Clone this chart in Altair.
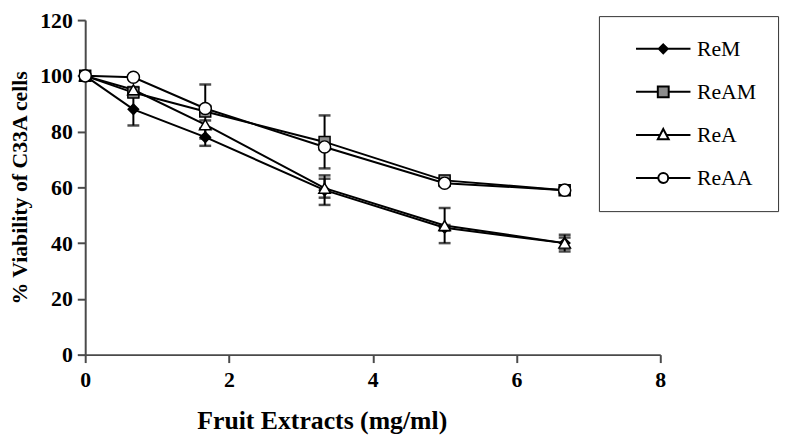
import altair as alt
import pandas as pd

# ---- data ----
doses = [0, 0.67, 1.67, 3.33, 5.0, 6.67]
series_names = ["ReM", "ReAM", "ReA", "ReAA"]
rem = [100, 88.0, 78.0, 59.0, 45.5, 40.0]
ream = [100, 94.0, 87.2, 76.3, 62.5, 59.0]
rea = [100, 95.0, 82.5, 59.7, 46.3, 40.0]
reaa = [100, 99.5, 88.3, 74.5, 61.5, 59.0]
rem_err = [0, 5.8, 3.1, 5.3, 1.0, 3.0]
ream_err = [0, 1.5, 9.7, 9.5, 1.0, 1.0]
rea_err = [0, 1.0, 1.5, 3.4, 6.3, 2.0]
reaa_err = [0, 0.0, 1.0, 1.0, 1.0, 1.0]

values = {"ReM": rem, "ReAM": ream, "ReA": rea, "ReAA": reaa}
errors = {"ReM": rem_err, "ReAM": ream_err, "ReA": rea_err, "ReAA": reaa_err}

rows = []
for k, s in enumerate(series_names):
    for d, v, e in zip(doses, values[s], errors[s]):
        rows.append({"series": s, "k": k, "dose": d, "viability": v, "err": e,
                     "lo": v - e, "hi": v + e})
df = pd.DataFrame(rows)

FONT = "Liberation Serif"
AXC = "#4a4a4a"
PLOT_H = 338

x_axis = alt.Axis(values=[0, 2, 4, 6, 8], grid=False, labelFont=FONT, labelFontSize=22,
                  labelFontWeight="bold", labelColor="black", labelFlush=False,
                  labelPadding=7, tickSize=8, tickWidth=2, tickColor=AXC,
                  domainColor=AXC, domainWidth=2,
                  title="Fruit Extracts (mg/ml)", titleFont=FONT, titleFontSize=26,
                  titleFontWeight="bold", titleColor="black", titleX=239, titleY=75,
                  titleBaseline="alphabetic", titleAlign="center")
y_axis = alt.Axis(values=[0, 20, 40, 60, 80, 100, 120], grid=False, labelFont=FONT,
                  labelFontSize=22, labelFontWeight="bold", labelColor="black",
                  labelPadding=5, tickSize=8, tickWidth=2, tickColor=AXC,
                  domainColor=AXC, domainWidth=2, labelFlush=False,
                  title="% Viability of C33A cells", titleFont=FONT, titleFontSize=22,
                  titleFontWeight="bold", titleColor="black", titleX=-59, titleY=PLOT_H / 2,
                  titleAngle=270, titleBaseline="alphabetic", titleAlign="center")

xs = alt.Scale(domain=[0, 8], nice=False, zero=False)
ys = alt.Scale(domain=[0, 120], nice=False)


def X():
    return alt.X("dose:Q", scale=xs, axis=x_axis)


def Y(field):
    return alt.Y(field, scale=ys, axis=y_axis)


base = alt.Chart(df)

lines = base.mark_line(color="black", strokeWidth=2).encode(
    x=X(), y=Y("viability:Q"), detail="series:N", order="dose:Q")

errdf = base.transform_filter("datum.err > 0")
err_rule = errdf.mark_rule(color="black", strokeWidth=2).encode(
    x=X(), y=Y("lo:Q"), y2="hi:Q")
cap_lo = errdf.mark_tick(color="black", orient="horizontal", size=12, thickness=2.5).encode(
    x=X(), y=Y("lo:Q"))
cap_hi = errdf.mark_tick(color="black", orient="horizontal", size=12, thickness=2.5).encode(
    x=X(), y=Y("hi:Q"))

marker_shapes = ["diamond", "square", "triangle-up", "circle"]
marker_fills = ["black", "#8c8c8c", "white", "white"]
marker_sizes = [110, 150, 140, 150]

points = base.mark_point(filled=True, stroke="black", strokeWidth=1.5, opacity=1).encode(
    x=X(), y=Y("viability:Q"),
    shape=alt.Shape("series:N", scale=alt.Scale(domain=series_names, range=marker_shapes), legend=None),
    fill=alt.Fill("series:N", scale=alt.Scale(domain=series_names, range=marker_fills), legend=None),
    size=alt.Size("series:N", scale=alt.Scale(domain=series_names, range=marker_sizes), legend=None),
    order="k:Q",
)

# legend symbols: line + marker, in units where 1 = 10 px (symbol size 400),
# drawn 3.2 units right of the symbol slot
def sym(marker, gap):
    line = "M0.45,0L{l:.2f},0M{r:.2f},0L5.95,0".format(l=3.2 - gap, r=3.2 + gap)
    return line + marker


legend_paths = [
    sym("M3.2,-0.45L3.65,0L3.2,0.45L2.75,0Z", 0.45),
    sym("M2.65,-0.55L3.75,-0.55L3.75,0.55L2.65,0.55Z", 0.55),
    sym("M3.2,-0.6L3.75,0.45L2.65,0.45Z", 0.31),
    sym("M3.7,0A0.5,0.5,0,1,1,2.7,0A0.5,0.5,0,1,1,3.7,0Z", 0.5),
]

leg = alt.Legend(orient="none", legendX=519, legendY=-4, title=None, padding=22,
                 strokeColor="#333", fillColor="white", symbolSize=400,
                 symbolStrokeWidth=2,
                 labelFont=FONT, labelFontSize=22, labelColor="black",
                 labelExpr="datum.label + '\u00a0\u00a0\u00a0\u00a0\u00a0\u00a0\u00a0\u2009'",
                 labelOffset=55, rowPadding=21.5)

legend_layer = base.transform_filter("false").mark_point(
    filled=True, strokeWidth=2, opacity=1).encode(
    x=X(), y=Y("viability:Q"),
    shape=alt.Shape("series:N", scale=alt.Scale(domain=series_names, range=legend_paths), legend=leg),
    fill=alt.Fill("series:N", scale=alt.Scale(domain=series_names, range=marker_fills), legend=leg),
    stroke=alt.Stroke("series:N", scale=alt.Scale(domain=series_names, range=["black"] * 4), legend=leg),
)

chart = alt.layer(lines, err_rule, cap_lo, cap_hi, points, legend_layer).resolve_scale(
    shape="independent", fill="independent", size="independent", stroke="independent"
).properties(
    width=581, height=PLOT_H,
    autosize=alt.AutoSizeParams(type="none"),
    padding={"left": 78, "top": 10, "right": 126, "bottom": 81},
    background="white",
).configure_view(stroke=None)

chart.save("out.html", embed_options={"renderer": "svg", "actions": False})
